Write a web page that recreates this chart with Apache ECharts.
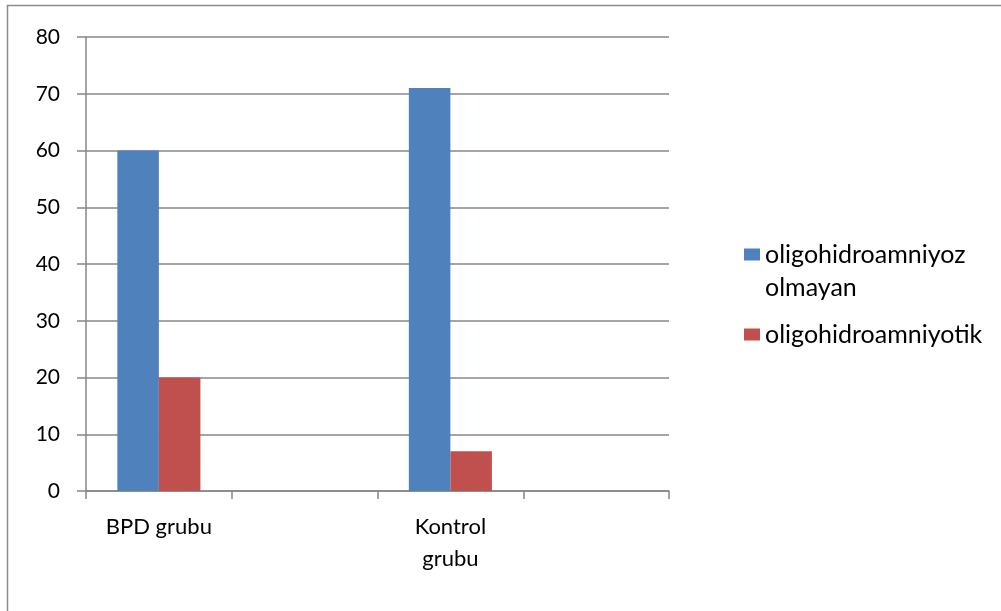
<!DOCTYPE html>
<html>
<head>
<meta charset="utf-8">
<script src="https://cdn.jsdelivr.net/npm/echarts@6/dist/echarts.min.js"></script>
<style>
  html, body { margin: 0; padding: 0; background: #ffffff; }
  #chart { width: 1001px; height: 611px; }
</style>
</head>
<body>
<div id="chart"></div>
<script>
// Groups on the category axis (two slots are left empty)
const categories = ['BPD grubu', '', 'Kontrol\ngrubu', ''];
// Series names and their wrapped legend text
const seriesNames = ['oligohidroamniyoz olmayan', 'oligohidroamniyotik'];
const legendText = {
  'oligohidroamniyoz olmayan': '\noligohidroamniyoz\nolmayan',
  'oligohidroamniyotik': 'oligohidroamniyotik'
};
// Counts per group
const nonOligo = [60, null, 71, null];
const oligo = [20, null, 7, null];
// Value axis ticks
const yMin = 0, yMax = 80, yStep = 10;

const FONT = 'Lato, "Open Sans", sans-serif';
const GRID = '#878787';

const chart = echarts.init(document.getElementById('chart'));
chart.setOption({
  animation: false,
  backgroundColor: '#ffffff',
  textStyle: { fontFamily: FONT },
  graphic: [{
    type: 'rect',
    shape: { x: 7.5, y: 5.5, width: 1100, height: 700 },
    style: { fill: 'none', stroke: '#8c8c8c', lineWidth: 1.5 },
    silent: true
  }],
  grid: { left: 86, right: 332, top: 37, bottom: 120 },
  legend: {
    orient: 'vertical',
    left: 744,
    top: 205,
    padding: 0,
    itemWidth: 16,
    itemHeight: 12,
    itemGap: 14,
    icon: 'rect',
    formatter: name => legendText[name],
    textStyle: { fontFamily: FONT, fontSize: 25, color: '#000', lineHeight: 33 },
    data: seriesNames
  },
  xAxis: {
    type: 'category',
    data: categories,
    axisLine: { lineStyle: { color: GRID, width: 1.5 } },
    axisTick: { show: true, length: 8, lineStyle: { color: GRID, width: 1.5 } },
    axisLabel: {
      interval: 0, margin: 20, fontSize: 22, color: '#000', lineHeight: 32, fontFamily: FONT
    }
  },
  yAxis: {
    type: 'value',
    min: yMin, max: yMax, interval: yStep,
    axisLine: { show: true, lineStyle: { color: GRID, width: 1.5 } },
    axisTick: { show: true, length: 9, lineStyle: { color: GRID, width: 1.5 } },
    splitLine: { lineStyle: { color: GRID, width: 1.5 } },
    axisLabel: { margin: 26, fontSize: 21, color: '#000', fontFamily: FONT }
  },
  series: [
    {
      name: seriesNames[0], type: 'bar', data: nonOligo,
      barGap: '0%', barCategoryGap: '43%',
      itemStyle: { color: '#4F81BD' }
    },
    {
      name: seriesNames[1], type: 'bar', data: oligo,
      barGap: '0%', barCategoryGap: '43%',
      itemStyle: { color: '#C0504D' }
    }
  ]
});
</script>
</body>
</html>
